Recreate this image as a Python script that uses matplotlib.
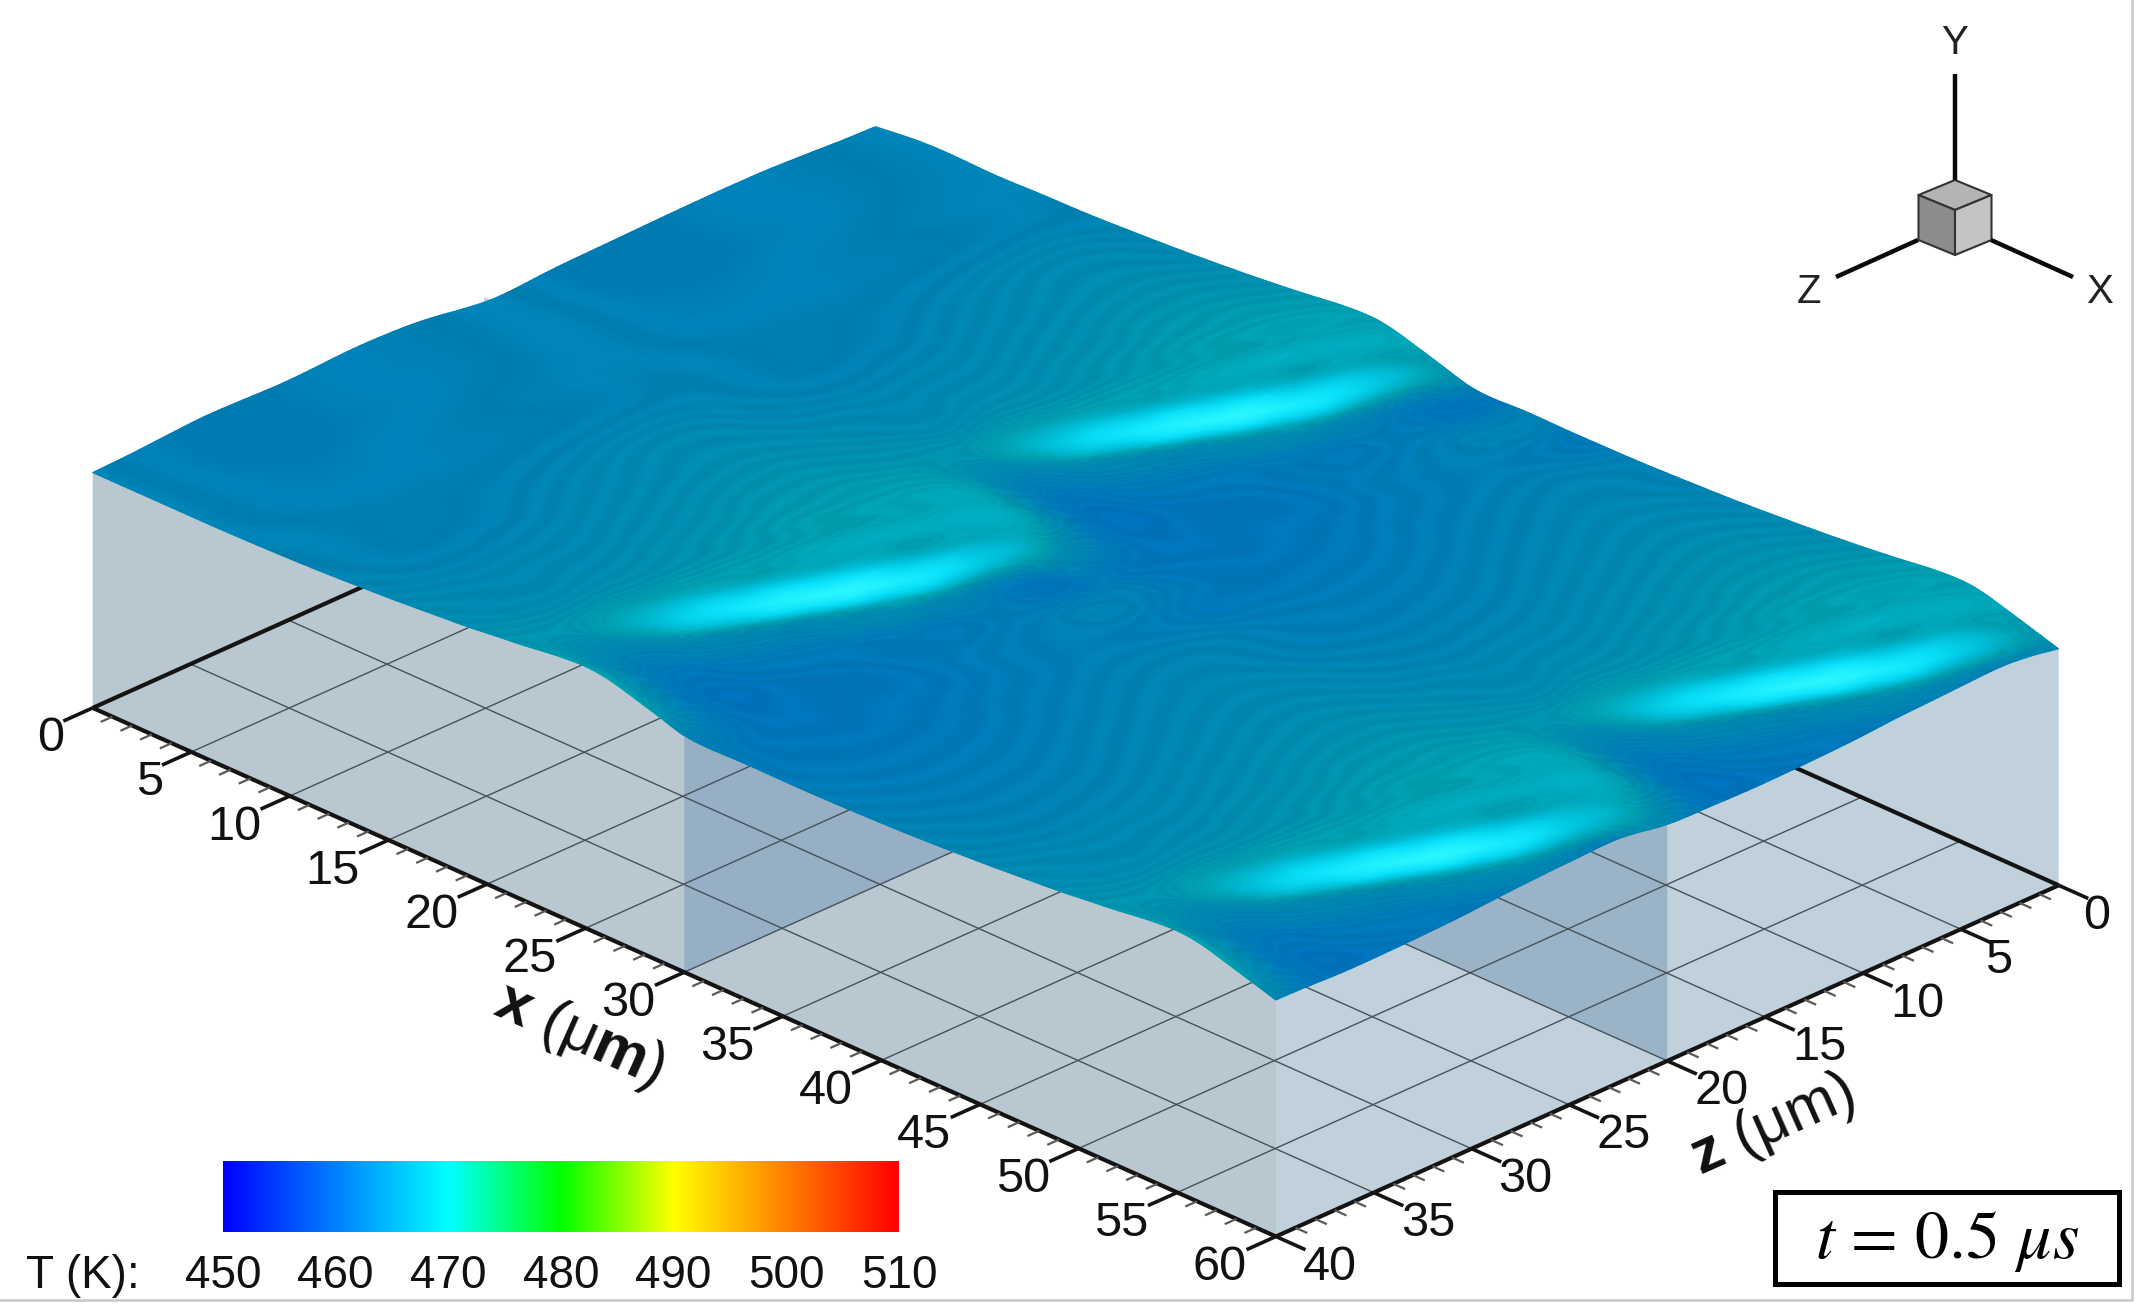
"""Isometric view of a surface temperature field above a 60 x 40 um domain."""

from __future__ import annotations

import matplotlib

matplotlib.use("Agg")
import matplotlib.pyplot as plt
import matplotlib.tri as mtri
import numpy as np
from matplotlib.axes import Axes
from matplotlib.colors import LinearSegmentedColormap, ListedColormap
from matplotlib.patches import Polygon, Rectangle

plt.rcParams.update({
    "font.family": ["Liberation Sans", "DejaVu Sans"],
    "mathtext.fontset": "custom",
    "mathtext.rm": "Liberation Sans",
    "mathtext.bf": "Liberation Sans:bold",
    "mathtext.it": "Liberation Sans:italic",
})

# Values: one repeating cell, 30 um in x and 20 um in z.
CELL_X = [0, 2.5, 5, 7.5, 10, 12.5, 15, 17.5, 20, 21.25, 22.5, 23.75, 25, 26.25, 27.5, 28.75]
CELL_Z = [0, 2.5, 5, 7.5, 10, 12.5, 15, 17.5]
PERIOD_X = 30
PERIOD_Z = 20
T_CELL = [
    [462.60, 461.70, 461.60, 461.85, 462.15, 462.45, 462.80, 463.20, 463.65, 463.90, 464.15, 464.35, 464.55, 464.65, 464.65, 464.00],
    [462.20, 461.85, 461.95, 462.20, 462.50, 462.80, 463.15, 463.55, 464.00, 464.25, 464.50, 464.70, 464.85, 465.00, 465.40, 465.80],
    [462.00, 461.85, 461.95, 462.20, 462.50, 462.80, 463.15, 463.55, 464.00, 464.25, 464.50, 464.70, 465.00, 465.60, 468.50, 464.60],
    [461.80, 461.62, 461.75, 462.00, 462.30, 462.60, 462.95, 463.35, 463.80, 464.05, 464.30, 464.80, 466.40, 470.00, 465.60, 462.90],
    [461.50, 461.34, 461.52, 461.77, 462.07, 462.37, 462.72, 463.12, 463.57, 463.85, 464.40, 466.00, 469.50, 465.30, 462.60, 461.80],
    [461.20, 461.14, 461.32, 461.57, 461.87, 462.17, 462.52, 462.92, 463.40, 464.00, 465.60, 467.80, 464.80, 462.50, 461.80, 461.40],
    [461.00, 461.07, 461.25, 461.50, 461.80, 462.10, 462.45, 462.85, 463.40, 464.30, 465.20, 463.80, 462.40, 461.70, 461.30, 461.05],
    [461.07, 461.14, 461.32, 461.57, 461.87, 462.17, 462.52, 462.92, 463.30, 463.80, 463.60, 462.70, 462.00, 461.55, 461.25, 461.10],
]
# The first x = 0 to 10 um is flatter and has no dark basins.
T_START = [
    [462.20, 462.20, 462.20, 462.22, 462.30],
    [462.12, 462.12, 462.14, 462.18, 462.25],
    [462.05, 462.05, 462.08, 462.12, 462.20],
    [462.00, 462.00, 462.02, 462.07, 462.15],
    [461.95, 461.95, 461.98, 462.03, 462.10],
    [461.90, 461.90, 461.94, 462.00, 462.08],
    [461.90, 461.90, 461.94, 462.00, 462.08],
    [462.00, 462.00, 462.03, 462.08, 462.16],
]
HEIGHT_CELL = [
    [0.05, 0.00, 0.00, 0.02, 0.08, 0.18, 0.32, 0.50, 0.72, 0.85, 1.00, 1.15, 1.22, 1.08, 0.75, 0.40],
    [0.40, 0.15, 0.05, 0.05, 0.10, 0.20, 0.35, 0.52, 0.72, 0.85, 1.00, 1.10, 1.15, 1.02, 0.82, 0.60],
    [0.35, 0.15, 0.05, 0.05, 0.10, 0.20, 0.32, 0.48, 0.65, 0.75, 0.82, 0.88, 0.85, 0.65, 0.40, 0.30],
    [0.25, 0.10, 0.04, 0.04, 0.08, 0.16, 0.28, 0.42, 0.56, 0.62, 0.65, 0.62, 0.45, 0.22, 0.12, 0.10],
    [0.10, 0.02, 0.00, 0.02, 0.06, 0.14, 0.25, 0.38, 0.50, 0.52, 0.50, 0.38, 0.15, 0.03, 0.00, 0.02],
    [0.00, -0.03, -0.03, 0.00, 0.05, 0.12, 0.23, 0.35, 0.45, 0.42, 0.28, 0.10, -0.02, -0.06, -0.06, -0.04],
    [-0.05, -0.05, -0.03, 0.00, 0.05, 0.12, 0.22, 0.35, 0.45, 0.30, 0.10, -0.02, -0.08, -0.10, -0.10, -0.08],
    [-0.02, -0.03, -0.01, 0.01, 0.06, 0.14, 0.25, 0.42, 0.60, 0.60, 0.50, 0.42, 0.32, 0.22, 0.10, 0.02],
]
# Height along the x = 0 edge, z = 0 to 40 um in 2.5 um steps.
HEIGHT_X0_EDGE = [-0.25, -0.15, -0.02, 0.02, 0.00, -0.05, -0.10, -0.20, -0.25,
                  0.10, 0.30, 0.30, 0.20, 0.25, 0.25, 0.10, 0.00]

X_MAX = 60
Z_MAX = 40
BASE_HEIGHT = 11.0
X_TICKS = list(range(0, 65, 5))
Z_TICKS = list(range(0, 45, 5))
CBAR_TICKS = [450, 460, 470, 480, 490, 500, 510]
CBAR_COLORS = ["#0000ff", "#0080ff", "#00ffff", "#00ff00", "#ffff00", "#ff8000", "#ff0000"]

# Surface colours are the lit ones seen in the picture, not the colour bar's.
SURFACE_T = [460.5, 461.5, 462.5, 463.5, 464.5, 466.0, 468.0, 470.0]
SURFACE_COLORS = ["#006ebe", "#007ab9", "#0085b2", "#008eb0", "#009fb0", "#00bed7", "#0ae1fa", "#28f5ff"]

# Projection of (x, height, z) in um to picture pixels.
ORIGIN = (875.5, 356.7)
X_STEP = (19.72, 8.81)
Z_STEP = (-19.57, 8.78)
HEIGHT_STEP = 21.4

LEFT_WALL = "#b9c7d0"
RIGHT_WALL = "#c0d1dc"


def project(x, height, z):
    """Return picture coordinates for points in domain coordinates."""
    x, height, z = np.asarray(x, float), np.asarray(height, float), np.asarray(z, float)
    px = ORIGIN[0] + x * X_STEP[0] + z * Z_STEP[0]
    py = ORIGIN[1] + x * X_STEP[1] + z * Z_STEP[1] - height * HEIGHT_STEP
    return px, py


def face(ax: Axes, corners, **kwargs) -> None:
    """Fill a planar face given its (x, height, z) corners."""
    px, py = project(*np.array(corners, float).T)
    ax.add_patch(Polygon(np.c_[px, py], closed=True, linewidth=0, **kwargs))


def segment(ax: Axes, start, end, **kwargs) -> None:
    """Draw one straight line between two (x, height, z) points."""
    px, py = project(*np.array([start, end], float).T)
    ax.plot(px, py, solid_capstyle="butt", **kwargs)


def surface_colormap() -> ListedColormap:
    """Return the lit surface map with the picture's fine contour banding."""
    t_min, t_max = SURFACE_T[0], SURFACE_T[-1]
    stops = [(t - t_min) / (t_max - t_min) for t in SURFACE_T]
    base = LinearSegmentedColormap.from_list("surface", list(zip(stops, SURFACE_COLORS)), N=2048)
    rgba = base(np.arange(2048))
    temps = np.linspace(t_min, t_max, 2048)
    fade = np.clip((465.5 - temps) / 1.0, 0, 1)
    rgba[:, :3] *= (1 + 0.03 * fade * np.cos(2 * np.pi * temps / 0.2))[:, None]
    return ListedColormap(np.clip(rgba, 0, 1))


def draw_box(ax: Axes) -> None:
    """Draw the domain walls, floor grid and axes lying below the surface."""
    # The walls run up behind the surface so no gap opens along its humps.
    raised = BASE_HEIGHT + 1.5
    face(ax, [(0, 0, 0), (X_MAX, 0, 0), (X_MAX, 0, Z_MAX), (0, 0, Z_MAX)], facecolor=LEFT_WALL)
    face(ax, [(0, 0, Z_MAX), (X_MAX, 0, Z_MAX), (X_MAX, raised, Z_MAX), (4, raised, Z_MAX), (0, BASE_HEIGHT, Z_MAX)],
         facecolor=LEFT_WALL)
    face(ax, [(X_MAX, 0, Z_MAX), (X_MAX, 0, 0), (X_MAX, BASE_HEIGHT, 0), (X_MAX, raised, 4), (X_MAX, raised, Z_MAX)],
         facecolor=RIGHT_WALL)
    face(ax, [(30, 0, Z_MAX), (30, 0, 0), (30, BASE_HEIGHT, 0), (30, BASE_HEIGHT, Z_MAX)],
         facecolor="#4678aa", alpha=0.3)
    face(ax, [(X_MAX, 0, 20), (0, 0, 20), (0, BASE_HEIGHT, 20), (X_MAX, BASE_HEIGHT, 20)],
         facecolor="#466e96", alpha=0.3)

    for x in X_TICKS[1:-1]:
        segment(ax, (x, 0, 0), (x, 0, Z_MAX), color="#46525a", linewidth=1.0)
    for z in Z_TICKS[1:-1]:
        segment(ax, (0, 0, z), (X_MAX, 0, z), color="#46525a", linewidth=1.0)
    for start, end in [
        ((0, 0, Z_MAX), (X_MAX, 0, Z_MAX)),
        ((X_MAX, 0, Z_MAX), (X_MAX, 0, 0)),
        ((0, 0, Z_MAX), (0, 0, 0)),
        ((X_MAX, 0, 0), (0, 0, 0)),
    ]:
        segment(ax, start, end, color="#141414", linewidth=3.0)


def draw_surface(ax: Axes) -> None:
    """Draw the temperature field on the deformed top surface."""
    nodes_x = np.r_[CELL_X, np.array(CELL_X) + PERIOD_X, X_MAX]
    nodes_z = np.r_[CELL_Z, np.array(CELL_Z) + PERIOD_Z, Z_MAX]
    n_x, n_z = nodes_x.size, nodes_z.size
    rows = np.arange(n_z) % len(CELL_Z)
    cols = np.arange(n_x) % len(CELL_X)
    temps = np.array(T_CELL)[np.ix_(rows, cols)]
    temps[:, :5] = np.array(T_START)[rows]
    heights = np.array(HEIGHT_CELL)[np.ix_(rows, cols)]
    heights[:, 0] = HEIGHT_X0_EDGE

    grid_x, grid_z = np.meshgrid(nodes_x, nodes_z)
    triangles = []
    for j in range(n_z - 1):
        for i in range(n_x - 1):
            a, b = j * n_x + i, j * n_x + i + 1
            c, d = a + n_x, b + n_x
            triangles += [(a, b, c), (b, d, c)]
    flat = mtri.Triangulation(grid_x.ravel(), grid_z.ravel(), triangles)
    refiner = mtri.UniformTriRefiner(flat)
    fine, fine_t = refiner.refine_field(temps.ravel(), subdiv=4)
    _, fine_h = refiner.refine_field(heights.ravel(), subdiv=4)

    px, py = project(fine.x, BASE_HEIGHT + fine_h, fine.y)
    screen = mtri.Triangulation(px, py, fine.triangles)
    ax.tripcolor(
        screen, fine_t, shading="gouraud", zorder=3,
        cmap=surface_colormap(), vmin=SURFACE_T[0], vmax=SURFACE_T[-1],
    )


def draw_ticks(ax: Axes) -> None:
    """Draw tick marks, tick labels and axis titles."""
    tick_style = {"color": "#141414", "linewidth": 2.6}
    minor_style = {"color": "#5a5a5a", "linewidth": 1.6}
    for value in range(0, X_MAX + 1):
        major = value % 5 == 0
        length = 1.5 if major else 0.6
        segment(ax, (value, 0, Z_MAX), (value, 0, Z_MAX + length), **(tick_style if major else minor_style))
    for value in range(0, Z_MAX + 1):
        major = value % 5 == 0
        length = 1.5 if major else 0.6
        segment(ax, (X_MAX, 0, value), (X_MAX + length, 0, value), **(tick_style if major else minor_style))

    label_style = {"ha": "center", "va": "center", "fontsize": 35, "color": "#111111"}
    for value in X_TICKS:
        px, py = project(value, 0, Z_MAX)
        shift = 42 if value < 10 else 56
        ax.text(px - shift, py + 31, str(value), **label_style)
    for value in Z_TICKS:
        px, py = project(X_MAX, 0, value)
        shift = 38 if value < 10 else 54
        ax.text(px + shift, py + 31, str(value), **label_style)

    ax.text(579, 1036, r"$\mathbf{x}$ (μ$\mathbf{m}$)", rotation=-24, rotation_mode="anchor",
            ha="center", va="center", fontsize=44, color="#111111")
    ax.text(1772, 1126, r"$\mathbf{z}$ (μm)", rotation=24, rotation_mode="anchor",
            ha="center", va="center", fontsize=44, color="#111111")


def draw_colorbar(ax: Axes) -> None:
    """Draw the horizontal colour bar and its labels."""
    low, high = CBAR_TICKS[0], CBAR_TICKS[-1]
    stops = [(t - low) / (high - low) for t in CBAR_TICKS]
    cmap = LinearSegmentedColormap.from_list("cbar", list(zip(stops, CBAR_COLORS)), N=512)
    left, right, top, bottom = 223, 899, 1161, 1232
    ax.imshow(
        np.linspace(low, high, 512)[None, :], extent=(left, right, bottom, top),
        aspect="auto", cmap=cmap, vmin=low, vmax=high, zorder=3,
    )
    for value in CBAR_TICKS:
        px = left + (right - left) * (value - low) / (high - low)
        ax.text(px, 1276, str(value), ha="center", va="center", fontsize=33, color="#111111")
    ax.text(26, 1276, "T (K):", ha="left", va="center", fontsize=33, color="#111111")


def draw_orientation(ax: Axes) -> None:
    """Draw the small XYZ orientation cube."""
    top = np.array([1955.0, 180.0])
    to_x, to_z, down = np.array([36.5, 15.0]), np.array([-36.5, 15.0]), np.array([0.0, 45.0])
    edge = {"edgecolor": "#333333", "linewidth": 1.5, "joinstyle": "round"}
    ax.add_patch(Polygon([top, top + to_x, top + to_x + to_z, top + to_z], facecolor="#b4b4b4", **edge))
    ax.add_patch(Polygon([top + to_z, top + to_x + to_z, top + to_x + to_z + down, top + to_z + down],
                         facecolor="#8c8c8c", **edge))
    ax.add_patch(Polygon([top + to_x, top + to_x + to_z, top + to_x + to_z + down, top + to_x + down],
                         facecolor="#c4c4c4", **edge))
    axis_style = {"color": "#0a0a0a", "linewidth": 3.2, "solid_capstyle": "butt"}
    ax.plot([1955, 1955], [180, 74], **axis_style)
    ax.plot([1918, 1836], [240, 277], **axis_style)
    ax.plot([1991, 2073], [240, 277], **axis_style)
    for label, px, py in [("Y", 1955, 43), ("Z", 1809, 292), ("X", 2100, 292)]:
        ax.text(px, py, label, ha="center", va="center", fontsize=29, color="#222222")


def draw_time_box(ax: Axes) -> None:
    """Draw the boxed time stamp."""
    ax.add_patch(Rectangle((1775, 1192), 344, 92, facecolor="white", edgecolor="black", linewidth=3.6, zorder=4))
    ax.text(1947, 1241, r"$t$ = 0.5 $\mu s$", ha="center", va="center", fontsize=49,
            math_fontfamily="stix", family="STIXGeneral", zorder=5)


def main() -> None:
    fig = plt.figure(figsize=(21.35, 13.15), dpi=100)
    ax = fig.add_axes((0, 0, 1, 1))

    draw_box(ax)
    draw_surface(ax)
    draw_ticks(ax)
    draw_colorbar(ax)
    draw_orientation(ax)
    draw_time_box(ax)

    # Thin frame left over at the picture's edges.
    ax.plot([0, 2132, 2132], [1300, 1300, 0], color="#c8c8c8", linewidth=1.8)
    ax.set_xlim(0, 2135)
    ax.set_ylim(1315, 0)
    ax.axis("off")
    fig.savefig("out.png", dpi=100, facecolor="white")
    plt.close(fig)


if __name__ == "__main__":
    main()
